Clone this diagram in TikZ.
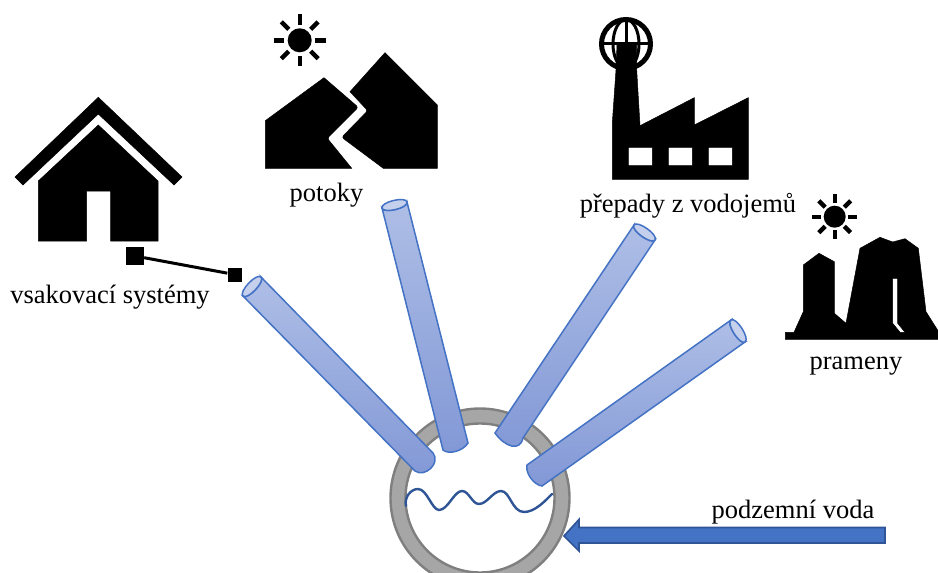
\documentclass[tikz,border=0pt]{standalone}
\usepackage{fontspec}
\setmainfont{Liberation Serif}
\usetikzlibrary{calc}
\definecolor{pipeedge}{HTML}{4472C4}
\definecolor{pipetop}{HTML}{AEBEE6}
\definecolor{pipebot}{HTML}{8298D6}
\definecolor{pipecap}{HTML}{C5D0EC}
\definecolor{wavecol}{HTML}{2F5597}
\definecolor{ringfill}{HTML}{A6A6A6}
\definecolor{ringedge}{HTML}{7F7F7F}
\tikzset{
  lbl/.style={anchor=base,inner sep=0pt,font=\fontsize{26.5}{29}\selectfont,text=black},
  icon/.style={fill=black,draw=black,line width=0.5pt},
  ray/.style={line width=4.4pt,black},
  sq/.style={fill=black,draw=none,inner sep=0pt,minimum width=#1,minimum height=#1},
}
% A,B top end; C,D bottom end; c1,c2 controls of the bottom end
\newcommand{\pipeshape}[6]{%
  \path[draw=pipeedge,line width=1.5pt,top color=pipetop,bottom color=pipebot]
    #1 -- #3 .. controls #5 and #6 .. #4 -- #2
    .. controls ($#2!0.24!90:#1$) and ($#1!0.24!-90:#2$) .. #1 -- cycle;
  \path[draw=pipeedge,line width=1.5pt,fill=pipecap]
    #1 .. controls ($#1!0.24!90:#2$) and ($#2!0.24!-90:#1$) .. #2
    .. controls ($#2!0.24!90:#1$) and ($#1!0.24!-90:#2$) .. #1 -- cycle;
}
\newcommand{\sunshape}[5]{% x y r r1 r2
  \fill[black] (#1,#2) circle[radius=#3];
  \foreach \a in {0,45,...,315}
    \draw[ray] ($(#1,#2)+(\a:#4)$) -- ($(#1,#2)+(\a:#5)$);
}
\begin{document}
\begin{tikzpicture}[x=1pt,y=-1pt]
\useasboundingbox (0,0) rectangle (938,573);
\begin{scope}
\clip (0,0) rectangle (938,573);
% well ring
\fill[white] (480,498) circle[radius=74];
\path[fill=ringfill,even odd rule] (480,498) circle[radius=89.5] (480,498) circle[radius=74.5];
\draw[ringedge,line width=2.4pt] (480,498) circle[radius=89.5];
\draw[ringedge,line width=2.4pt] (480,498) circle[radius=74.5];
\end{scope}
% water
\draw[wavecol,line width=2.4pt,line cap=round] (406,506) .. controls (404,497) and (411,489) .. (418,489) .. controls (427,489) and (432,510) .. (439,510) .. controls (448,510) and (454,491) .. (462,491) .. controls (469,491) and (472,504) .. (479,504) .. controls (487,504) and (493,491) .. (501,491) .. controls (510,491) and (512,512) .. (524,512) .. controls (535,512) and (545,501) .. (552,494);
% pipes
\pipeshape{(243,296)}{(261,277)}{(415,471)}{(433,453)}{(425,478)}{(441,463)}
\pipeshape{(382,208)}{(407,202)}{(443,450)}{(468,443)}{(449,455)}{(463,451)}
\pipeshape{(634,225)}{(655,240)}{(495,433)}{(523,438)}{(505,447)}{(520,452)}
\pipeshape{(731,320)}{(745,342)}{(527,465)}{(542,486)}{(525,473)}{(534,485)}
% house
\fill[icon] (98.3,97.3) -- (182,177) -- (174,185) -- (98.3,114) -- (23,185) -- (15,177) -- cycle;
\fill[icon] (98.3,125) -- (158,181) -- (158,241) -- (110.7,241) -- (110.7,191) -- (86.7,191) -- (86.7,241) -- (38.3,241) -- (38.3,181) -- cycle;
\node[sq=18pt] (s1) at (135,256) {};
\node[sq=14pt] (s2) at (234.5,274.5) {};
\draw[black,line width=3pt] (s1) -- (s2);
% mountains
\sunshape{299.7}{40.3}{12}{15.5}{26}
\fill[icon] (265.3,168.3) -- (265.3,120.7) -- (324,77.7) [rounded corners=2.5pt] -- (358.3,107.3) -- (327.3,138.3) [sharp corners] -- (351.7,168.3) -- cycle;
\fill[icon] (383.3,168.3) [rounded corners=2.5pt] -- (341.7,137.3) -- (367.7,110.7) [sharp corners] -- (350,91.7) -- (385,52.7) -- (437.3,105) -- (437.3,168.3) -- cycle;
% factory
\draw[black,line width=5pt] (626,44) circle[radius=24.5];
\draw[black,line width=3pt] (626,44) ellipse[x radius=13,y radius=24.5];
\draw[black,line width=3pt] (626.5,19.5) -- (626.5,68.5) (601.5,43.5) -- (650.5,43.5);
\fill[icon,even odd rule] (617,44) -- (616,70) -- (612.3,123) -- (612.3,179.3) -- (748.3,179.3) -- (748.3,97.7) -- (694.3,125) -- (694.3,97.7) -- (640,125.7) -- (636.7,70) -- (636.5,44) -- cycle
 (628.3,147.3) rectangle (652.3,165.7) (668.3,147.3) rectangle (692.3,165.7) (708.3,147.3) rectangle (732.3,165.7);
% springs
\sunshape{834.7}{216.7}{11}{13.5}{22.5}
\fill[icon,even odd rule] (785.3,339.3) -- (785.3,332.3) -- (794,332.3) -- (803.3,311.7) -- (803.3,265) -- (819,253.3) -- (834.3,261.7) -- (834.3,313.3) -- (846,323.3) -- (860,248.3) -- (880,237.3) -- (892.7,242) -- (905,238.7) -- (918.3,248.3) -- (926,311.7) -- (938,330.7) -- (938,339.3) -- cycle
 (892.7,278.3) -- (897.7,278.3) -- (897.7,323.3) -- (905,332.3) -- (900,332.3) -- (892.7,323.3) -- cycle;
% arrow
\draw[draw=wavecol,fill=pipeedge,line width=1.7pt,line join=miter] (564,536) -- (579,519.5) -- (579,527.5) -- (885,527.5) -- (885,543) -- (579,543) -- (579,551) -- cycle;
% labels
\node[lbl] (t1) at (110,303) {vsakovací systémy};
\node[lbl] (t2) at (326.5,201) {potoky};
\node[lbl] (t3) at (688,212) {přepady z vodojemů};
\node[lbl] (t4) at (856,369) {prameny};
\node[lbl] (t5) at (793,518) {podzemní voda};
\end{tikzpicture}
\end{document}
